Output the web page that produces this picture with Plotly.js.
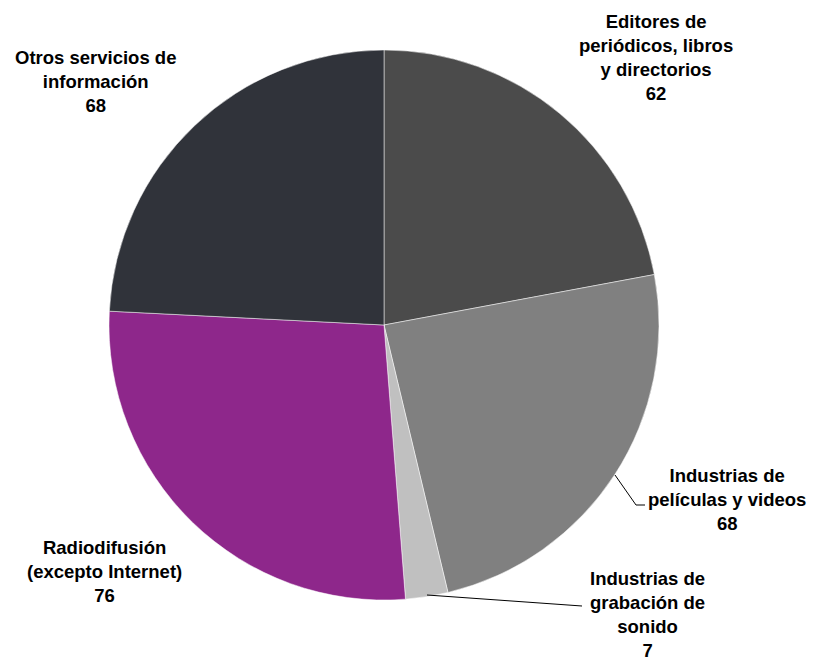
<!DOCTYPE html>
<html><head><meta charset="utf-8">
<script src="https://cdn.plot.ly/plotly-3.0.1.min.js"></script>
<style>html,body{margin:0;padding:0;background:#fff}#chart{width:825px;height:662px}</style>
</head><body><div id="chart"></div>
<script>
const categories = ["Editores de periódicos, libros y directorios","Industrias de películas y videos","Industrias de grabación de sonido","Radiodifusión (excepto Internet)","Otros servicios de información"];
const values = [62, 68, 7, 76, 68];
const labelTexts = ["Editores de<br>periódicos, libros<br>y directorios","Industrias de<br>películas y videos","Industrias de<br>grabación de<br>sonido","Radiodifusión<br>(excepto Internet)","Otros servicios de<br>información"];
const colors = ["#4b4b4b","#808080","#c0c0c0","#8e278b","#30333a"];

const W = 825, H = 662;
const px = x => x / W, py = y => 1 - y / H;
const labelPos = [[656,57],[727,499],[647,614],[105,571],[95,81]];

const annotations = labelTexts.map((t,i) => ({
  text: "<b>" + t + "<br>" + values[i] + "</b>",
  x: px(labelPos[i][0]), y: py(labelPos[i][1]),
  xref: "paper", yref: "paper", xanchor: "center", yanchor: "middle",
  showarrow: false, align: "center",
  font: {family: "Liberation Sans, Arial, sans-serif", size: 18.5, color: "#000"}
}));

const shapes = [
  {type:"path", xref:"paper", yref:"paper",
   path:`M ${px(615)} ${py(475)} L ${px(636)} ${py(505)} L ${px(645)} ${py(505)}`,
   line:{color:"#000", width:1}},
  {type:"path", xref:"paper", yref:"paper",
   path:`M ${px(427)} ${py(595)} L ${px(582)} ${py(606)}`,
   line:{color:"#000", width:1}}
];

const trace = {
  type: "pie", labels: categories, values: values, sort: false,
  direction: "clockwise", rotation: 0,
  marker: {colors: colors, line: {color: "#ffffff", width: 0.5}},
  textinfo: "none", hoverinfo: "label+value",
  domain: {x: [px(109), px(659)], y: [py(600), py(50)]},
  showlegend: false
};

Plotly.newPlot("chart", [trace], {
  width: W, height: H, margin: {l:0, r:0, t:0, b:0},
  paper_bgcolor: "#fff", showlegend: false,
  annotations: annotations, shapes: shapes
}, {displayModeBar: false, staticPlot: true});
</script></body></html>
